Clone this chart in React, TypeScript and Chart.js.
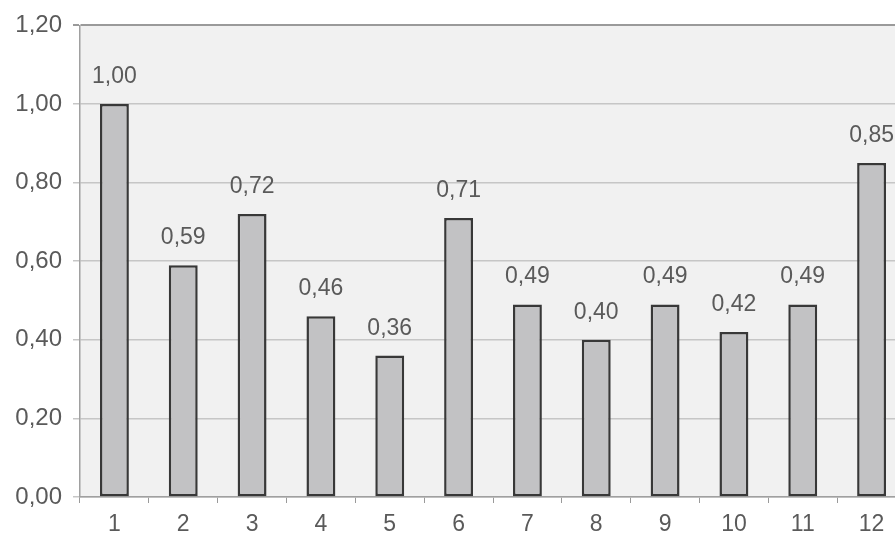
import React, { useEffect, useRef } from "react";
import { Chart, registerables } from "chart.js";

Chart.register(...registerables);

const categories = ["1", "2", "3", "4", "5", "6", "7", "8", "9", "10", "11", "12"];
const values = [1.0, 0.59, 0.72, 0.46, 0.36, 0.71, 0.49, 0.4, 0.49, 0.42, 0.49, 0.85];
const yMin = 0;
const yMax = 1.2;
const yStep = 0.2;

const fmt = (v: number) => v.toFixed(2).replace(".", ",");

const FONT = "'Liberation Sans', Arial, sans-serif";
const TEXT = "#5a5a5a";

const bgPlugin = {
  id: "plotBg",
  beforeDraw(chart: any) {
    const { ctx, chartArea } = chart;
    if (!chartArea) return;
    ctx.save();
    ctx.fillStyle = "#f1f1f1";
    ctx.fillRect(chartArea.left, chartArea.top, chartArea.right - chartArea.left, chartArea.bottom - chartArea.top);
    ctx.restore();
  },
};

const labelPlugin = {
  id: "valueLabels",
  afterDatasetsDraw(chart: any) {
    const { ctx } = chart;
    const meta = chart.getDatasetMeta(0);
    ctx.save();
    ctx.font = `23px ${FONT}`;
    ctx.fillStyle = TEXT;
    ctx.textAlign = "center";
    ctx.textBaseline = "alphabetic";
    meta.data.forEach((bar: any, i: number) => {
      ctx.fillText(fmt(values[i]), bar.x, bar.y - 21);
    });
    ctx.restore();
  },
};

export default function App() {
  const ref = useRef<HTMLCanvasElement | null>(null);

  useEffect(() => {
    if (!ref.current) return;
    const chart = new Chart(ref.current, {
      type: "bar",
      data: {
        labels: categories,
        datasets: [
          {
            data: values,
            backgroundColor: "#c2c2c4",
            borderColor: "#383838",
            borderWidth: 2.5,
            borderSkipped: false,
            categoryPercentage: 1,
            barPercentage: 0.42,
          },
        ],
      },
      plugins: [bgPlugin, labelPlugin],
      options: {
        animation: false,
        responsive: true,
        maintainAspectRatio: false,
        layout: { padding: { top: 25, left: 0, right: 0, bottom: 0 } },
        plugins: {
          legend: { display: false },
          tooltip: { enabled: false },
          title: { display: false },
        },
        scales: {
          x: {
            afterFit(scale: any) {
              scale.height = 43;
            },
            grid: {
              offset: true,
              drawOnChartArea: false,
              drawTicks: true,
              tickLength: 6,
              color: "#9a9a9a",
            },
            border: { display: true, color: "#a0a0a0", width: 1.5 },
            ticks: {
              color: TEXT,
              font: { family: FONT, size: 23 },
              padding: 8,
              maxRotation: 0,
            },
          },
          y: {
            min: yMin,
            max: yMax,
            afterFit(scale: any) {
              scale.width = 80;
            },
            grid: {
              color: (c: any) => (c.tick && Math.abs(c.tick.value - yMax) < 1e-6 ? "#9a9a9a" : "#c6c6c6"),
              lineWidth: (c: any) => (c.tick && Math.abs(c.tick.value - yMax) < 1e-6 ? 2 : 1.5),
              tickLength: 7,
              drawTicks: true,
            },
            border: { display: true, color: "#a0a0a0", width: 1.5 },
            ticks: {
              stepSize: yStep,
              color: TEXT,
              font: { family: FONT, size: 24 },
              padding: 11,
              callback: (v: any) => fmt(Number(v)),
            },
          },
        },
      },
    });
    return () => chart.destroy();
  }, []);

  return (
    <div style={{ position: "fixed", left: 0, top: 0, width: 895, height: 540, overflow: "hidden", background: "#fff" }}>
      <div style={{ position: "absolute", left: 0, top: 0, width: 906, height: 540 }}>
        <canvas ref={ref} />
      </div>
    </div>
  );
}
